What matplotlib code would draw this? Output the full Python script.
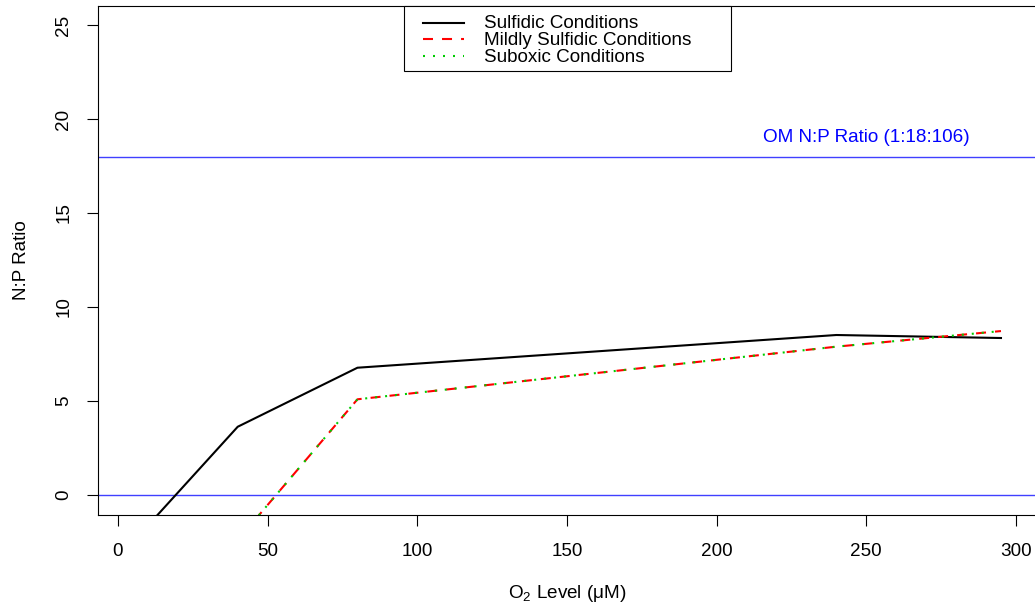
import matplotlib
matplotlib.use("Agg")
import matplotlib.pyplot as plt
from matplotlib.patches import Rectangle

plt.rcParams["font.family"] = ["Liberation Sans", "DejaVu Sans"]
plt.rcParams["mathtext.fontset"] = "custom"
plt.rcParams["mathtext.rm"] = "Liberation Sans"
plt.rcParams["lines.scale_dashes"] = False

# N:P ratio of the remineralised pool against bottom-water oxygen
o2_level = [5, 40, 80, 240, 295]
np_sulfidic = [-2.5, 3.63, 6.77, 8.51, 8.35]
np_mildly = [-8.8, -2.4, 5.09, 7.89, 8.72]
np_suboxic = [-8.8, -2.4, 5.09, 7.89, 8.72]
labels = ["Sulfidic Conditions", "Mildly Sulfidic Conditions", "Suboxic Conditions"]
om_ratio = 18
om_label = "OM N:P Ratio (1:18:106)"

FS = 13.6
BLUE = "#0000FF"
styles = [
    dict(color="black", lw=1.5, linestyle="-"),
    dict(color="#FF0000", lw=1.5, linestyle=(0, (7.2, 6.5))),
    dict(color="#00CC00", lw=1.5, linestyle=(0, (1.44, 5.76))),
]

fig = plt.figure(figsize=(10.35, 6.05), dpi=100)
ax = fig.add_axes([98 / 1035, 90 / 605, 938 / 1035, 509 / 605])
ax.set_xlim(-6.68, 306.7)
ax.set_ylim(-1.064, 26.01)

ax.axhline(om_ratio, color="#4040FF", lw=1.0)
ax.axhline(0, color="#4040FF", lw=1.0)
ax.text(250, 19, om_label, color=BLUE, fontsize=FS, ha="center", va="center")

for yvals, st in zip([np_sulfidic, np_mildly, np_suboxic], styles):
    ax.plot(o2_level, yvals, **st)

ax.set_xticks([0, 50, 100, 150, 200, 250, 300])
ax.set_yticks([0, 5, 10, 15, 20, 25])
ax.tick_params(length=8, width=0.8, labelsize=FS)
ax.tick_params(axis="x", pad=12)
ax.tick_params(axis="y", labelrotation=90, pad=10.5)
for lab in ax.get_yticklabels():
    lab.set_verticalalignment("center")
for sp in ax.spines.values():
    sp.set_linewidth(0.8)

ax.set_xlabel("O$_\\mathregular{2}$ Level (μM)", fontsize=FS)
ax.xaxis.set_label_coords(0.5, -0.134)
ax.set_ylabel("N:P Ratio", fontsize=FS)
ax.yaxis.set_label_coords(-0.072, 0.5)

# legend box at the top centre of the panel
def axx(px):
    return (px - 98) / 938

def axy(py):
    return (515 - py) / 509

ax.add_patch(Rectangle((axx(404), axy(71)), 327 / 938, 65 / 509, transform=ax.transAxes,
                       facecolor="white", edgecolor="black", lw=0.8, zorder=5, clip_on=False))
for i, (lab, st) in enumerate(zip(labels, styles)):
    yl = axy(22.7 + 16.5 * i)
    ax.plot([axx(423), axx(464)], [yl, yl], transform=ax.transAxes, clip_on=False, zorder=6, **st)
    ax.text(axx(484), axy(28 + 17 * i), lab, transform=ax.transAxes, fontsize=FS,
            va="baseline", ha="left", zorder=6)

fig.savefig("out.png", dpi=100, facecolor="white")
